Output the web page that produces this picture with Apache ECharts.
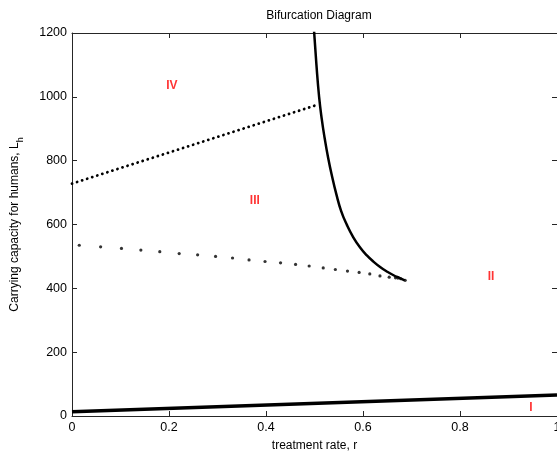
<!DOCTYPE html>
<html><head><meta charset="utf-8">
<script src="https://cdn.jsdelivr.net/npm/echarts@6/dist/echarts.min.js"></script>
<style>html,body{margin:0;padding:0;background:#fff}#c{width:557px;height:455px}</style>
</head><body><div id="c"></div>
<script>
// Bottom stable branch (thick solid line)
const lowerLineR = [0, 1];
const lowerLineL = [13, 66];
// Upper dotted branch
const upperDotR = [0, 0.508];
const upperDotL = [728, 976];
// Sparse dotted branch
const sparseR = [0.015,0.059,0.102,0.142,0.181,0.221,0.259,0.296,0.331,0.365,0.398,0.430,0.461,0.489,0.518,0.543,0.568,0.592,0.614,0.635,0.654,0.667,0.672,0.678,0.687];
const sparseL = [535,530,525,520,515,509,505,500,495,489,484,480,475,470,464,459,454,450,445,439,435,433,432,430,425];
// Thick curved branch
const curveR = [0.498,0.504,0.5095,0.515,0.521,0.528,0.536,0.545,0.555,0.567,0.580,0.594,0.608,0.622,0.636,0.650,0.663,0.676,0.686];
const curveL = [1230,1100,1000,930,870,810,752,695,642,598,560,528,503,483,466,452,441,432,425];
// Region labels
const regionNames = ['IV','III','II','I'];
const regionR = [0.206,0.377,0.864,0.946];
const regionL = [1035,674,436,25];

const zip = (a,b) => a.map((v,i)=>[v,b[i]]);
const font = 'Liberation Sans, Arial, Helvetica, sans-serif';
const axisCol = '#262626';

const chart = echarts.init(document.getElementById('c'), null, {renderer:'canvas'});
const baseX = {
  type:'value', min:0, max:1, interval:0.2,
  axisLine:{show:true,onZero:false,lineStyle:{color:axisCol,width:1}},
  axisTick:{show:true,inside:true,length:5,lineStyle:{color:axisCol}},
  splitLine:{show:false}
};
const baseY = {
  type:'value', min:0, max:1200, interval:200,
  axisLine:{show:true,onZero:false,lineStyle:{color:axisCol,width:1}},
  axisTick:{show:true,inside:true,length:5,lineStyle:{color:axisCol}},
  splitLine:{show:false}
};
chart.setOption({
  animation:false,
  backgroundColor:'#fff',
  title:{text:'Bifurcation Diagram',left:314,textAlign:'center',top:5,
    textStyle:{fontFamily:font,fontSize:12,fontWeight:'normal',color:'#000'}},
  grid:{left:72,right:0,top:33,bottom:39,containLabel:false,outerBoundsMode:'none'},
  xAxis:[
    Object.assign({}, baseX, {position:'bottom',
      name:'treatment rate, r', nameLocation:'middle', nameGap:24,
      nameTextStyle:{fontFamily:font,fontSize:12,color:'#000'},
      axisLabel:{show:true,fontFamily:font,fontSize:12.5,color:'#000',margin:5,
        formatter:v=>String(+v.toFixed(1))}}),
    Object.assign({}, baseX, {position:'top',axisLabel:{show:false}})
  ],
  yAxis:[
    Object.assign({}, baseY, {position:'left',
      name:'Carrying capacity for humans, L{s|h}', nameLocation:'middle', nameGap:51, nameRotate:90,
      nameTextStyle:{fontFamily:font,fontSize:12,color:'#000',
        rich:{s:{fontFamily:font,fontSize:9,color:'#000',verticalAlign:'bottom',padding:[0,0,-4,0]}}},
      axisLabel:{show:true,fontFamily:font,fontSize:12.5,color:'#000',margin:5,
        formatter:v=>String(v)}}),
    Object.assign({}, baseY, {position:'right',axisLabel:{show:false}})
  ],
  series:[
    {type:'line',data:zip(lowerLineR,lowerLineL),symbol:'none',clip:true,
      lineStyle:{color:'#000',width:3.5}},
    {type:'line',data:zip(upperDotR,upperDotL),symbol:'none',clip:true,
      lineStyle:{color:'#000',width:2.8,type:[0.1,5.2],cap:'round'}},
    {type:'scatter',data:zip(sparseR,sparseL),symbol:'circle',symbolSize:3.2,
      itemStyle:{color:'#000'}},
    {type:'line',data:zip(curveR,curveL),symbol:'none',smooth:0.5,clip:true,
      lineStyle:{color:'#000',width:2.5}},
    {type:'scatter',data:regionNames.map((n,i)=>[regionR[i],regionL[i],n]),
      symbolSize:0,
      label:{show:true,position:'inside',formatter:p=>p.data[2],
        fontFamily:font,fontSize:12,fontWeight:'bold',color:'#ff0000'}}
  ]
});
</script></body></html>
